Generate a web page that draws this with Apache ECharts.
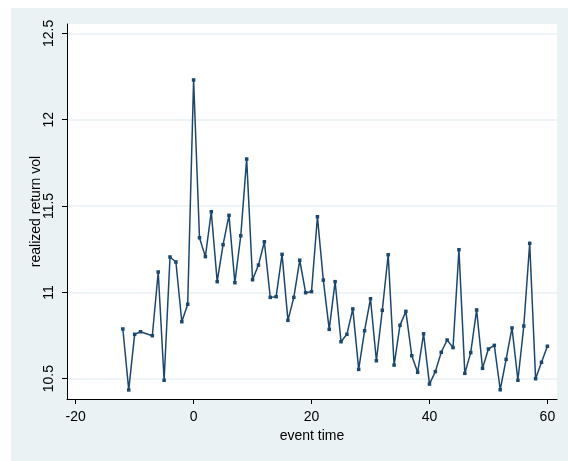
<!DOCTYPE html>
<html>
<head>
<meta charset="utf-8">
<script src="https://cdn.jsdelivr.net/npm/echarts@6/dist/echarts.min.js"></script>
<style>
html,body{margin:0;padding:0;background:#ffffff;}
#bg{position:absolute;left:11px;top:8px;width:557px;height:453px;background:#EAF2F3;}
#chart{position:absolute;left:0;top:0;width:568px;height:461px;}
</style>
</head>
<body>
<div id="bg"></div>
<div id="chart"></div>
<script>
const eventTime = [-12,-11,-10,-9,-7,-6,-5,-4,-3,-2,-1,0,1,2,3,4,5,6,7,8,9,10,11,12,13,14,15,16,17,18,19,20,21,22,23,24,25,26,27,28,29,30,31,32,33,34,35,36,37,38,39,40,41,42,43,44,45,46,47,48,49,50,51,52,53,54,55,56,57,58,59,60];
const vol = [10.788,10.435,10.757,10.772,10.749,11.118,10.491,11.205,11.176,10.830,10.931,12.230,11.316,11.207,11.467,11.062,11.276,11.446,11.056,11.328,11.772,11.073,11.158,11.293,10.971,10.975,11.220,10.838,10.971,11.186,10.998,11.004,11.438,11.071,10.786,11.062,10.714,10.757,10.904,10.554,10.778,10.963,10.604,10.896,11.218,10.579,10.809,10.890,10.633,10.537,10.760,10.469,10.541,10.653,10.724,10.680,11.247,10.531,10.651,10.898,10.560,10.672,10.693,10.436,10.612,10.794,10.491,10.805,11.284,10.500,10.595,10.688];
const xTicks = [-20,0,20,40,60];
const yTicks = [10.5,11,11.5,12,12.5];

const chart = echarts.init(document.getElementById('chart'), null, {renderer:'canvas'});
const font = 'Liberation Sans, Arial, sans-serif';
chart.setOption({
  animation:false,
  backgroundColor:'transparent',
  grid:{left:67,top:24,right:11,bottom:62,show:true,backgroundColor:'#ffffff',borderWidth:0},
  xAxis:{
    type:'value', min:-21.47, max:61.63,
    name:'event time', nameLocation:'middle', nameGap:30, nameMoveOverlap:false,
    nameTextStyle:{color:'#000',fontSize:14,fontFamily:font},
    axisLine:{show:true,onZero:false,lineStyle:{color:'#000',width:1}},
    axisTick:{show:true,length:5,lineStyle:{color:'#000'},customValues:xTicks},
    axisLabel:{color:'#000',fontSize:14,fontFamily:font,margin:11,customValues:xTicks},
    splitLine:{show:false}
  },
  yAxis:{
    type:'value', min:10.3825, max:12.554,
    name:'realized return vol', nameLocation:'middle', nameGap:24, nameMoveOverlap:false,
    nameTextStyle:{color:'#000',fontSize:14,fontFamily:font},
    axisLine:{show:true,onZero:false,lineStyle:{color:'#000',width:1}},
    axisTick:{show:true,length:5,lineStyle:{color:'#000'},customValues:yTicks},
    axisLabel:{color:'#000',fontSize:14,fontFamily:font,margin:11,rotate:90,customValues:yTicks},
    splitLine:{show:true,lineStyle:{color:'#EAF2F3',width:1.5}}
  },
  series:[{
    type:'line',
    data:eventTime.map((t,i)=>[t,vol[i]]),
    symbol:'rect', symbolSize:3.5,
    lineStyle:{color:'#1A476F',width:1.5},
    itemStyle:{color:'#1A476F'}
  }]
});
</script>
</body>
</html>
